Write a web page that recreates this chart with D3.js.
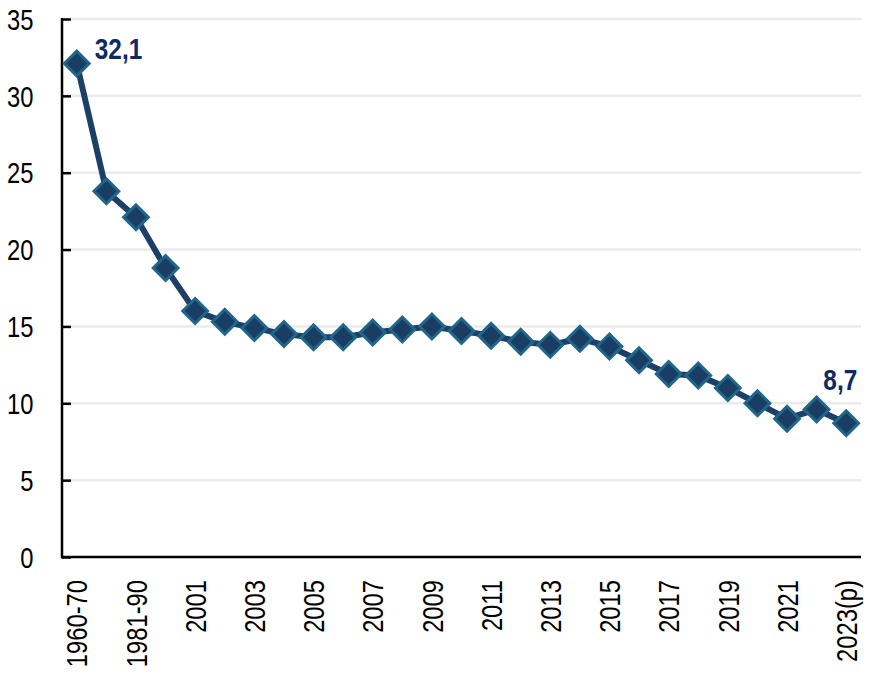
<!DOCTYPE html>
<html><head><meta charset="utf-8">
<script src="https://cdn.jsdelivr.net/npm/d3@7"></script>
<style>
body{margin:0;background:#fff;}
svg{display:block;}
</style></head>
<body>
<svg id="c" width="870" height="675"></svg>
<script>
const categories = ["1960-70","1971-80","1981-90","1991-2000","2001","2002","2003","2004","2005","2006","2007","2008","2009","2010","2011","2012","2013","2014","2015","2016","2017","2018","2019","2020","2021","2022","2023(p)"];
const values = [32.1,23.8,22.1,18.8,16.0,15.3,14.9,14.5,14.3,14.3,14.6,14.8,15.0,14.7,14.4,14.0,13.8,14.2,13.7,12.8,11.9,11.8,11.0,10.0,9.0,9.6,8.7];
const yTicks = [0,5,10,15,20,25,30,35];
const annotations = [{i:0, text:"32,1"},{i:26, text:"8,7"}];

(function(){
const svg = d3.select("#c");
const mL = 62, mR = 861, mT = 19, mB = 557;
const FONT = "Liberation Sans, Arial, sans-serif";
const x = d3.scalePoint().domain(categories).range([mL, mR]).padding(0.5);
const y = d3.scaleLinear().domain([0,35]).range([mB, mT]);

// gridlines
svg.append("g").selectAll("line").data(yTicks.filter(d=>d>0)).join("line")
  .attr("x1", mL).attr("x2", mR)
  .attr("y1", d=>y(d)).attr("y2", d=>y(d))
  .attr("stroke","#ebebeb").attr("stroke-width",2.5);

// y axis
const yAxis = svg.append("g").attr("transform",`translate(${mL},0)`)
  .call(d3.axisLeft(y).tickValues(yTicks).tickSize(-9).tickPadding(29).tickFormat(d3.format("d")));
yAxis.select(".domain").remove();
yAxis.selectAll(".tick line").attr("stroke","#000").attr("stroke-width",2.5);
yAxis.selectAll(".tick text").attr("font-size",29).attr("fill","#000")
  .attr("font-family",FONT).attr("dy","0.35em")
  .attr("x",0).attr("transform","translate(-28.5,0) scale(0.82,1)");
svg.append("line").attr("x1",mL).attr("x2",mL).attr("y1",mT-1).attr("y2",mB+1.25)
  .attr("stroke","#000").attr("stroke-width",2.5);

// x axis
const xAxis = svg.append("g").attr("transform",`translate(0,${mB})`)
  .call(d3.axisBottom(x).tickValues(categories.filter((d,i)=>i%2===0)).tickSize(0).tickPadding(0));
xAxis.select(".domain").remove();
xAxis.selectAll(".tick text")
  .attr("font-family",FONT).attr("font-size",29).attr("fill","#000")
  .attr("transform","rotate(-90) translate(-23,0) scale(0.82,1)").attr("text-anchor","end")
  .attr("x",0).attr("y",0).attr("dy","0.35em");
svg.append("line").attr("x1",mL-1).attr("x2",mR).attr("y1",mB).attr("y2",mB)
  .attr("stroke","#000").attr("stroke-width",2.5);

// line
const line = d3.line().x((d,i)=>x(categories[i])).y(d=>y(d));
svg.append("path").datum(values).attr("d",line)
  .attr("fill","none").attr("stroke","#1b3f66").attr("stroke-width",6).attr("stroke-linejoin","round");

// markers
const sym = d3.symbol().type(d3.symbolSquare).size(17.5*17.5);
svg.append("g").selectAll("path").data(values).join("path")
  .attr("d", sym)
  .attr("transform",(d,i)=>`translate(${x(categories[i])},${y(d)}) rotate(45)`)
  .attr("fill","#1a3d64").attr("stroke","#1f6689").attr("stroke-width",3);

// annotations
svg.append("g").selectAll("text").data(annotations).join("text")
  .attr("font-family",FONT)
  .attr("transform",d=> d.i===0 ? `translate(${x(categories[d.i])+18},59) scale(0.84,1)`
                                : `translate(${x(categories[d.i])+11},390) scale(0.84,1)`)
  .attr("text-anchor",d=> d.i===0 ? "start" : "end")
  .attr("font-size",29).attr("font-weight","bold").attr("fill","#0d2a66")
  .text(d=>d.text);
})();
</script>
</body></html>
